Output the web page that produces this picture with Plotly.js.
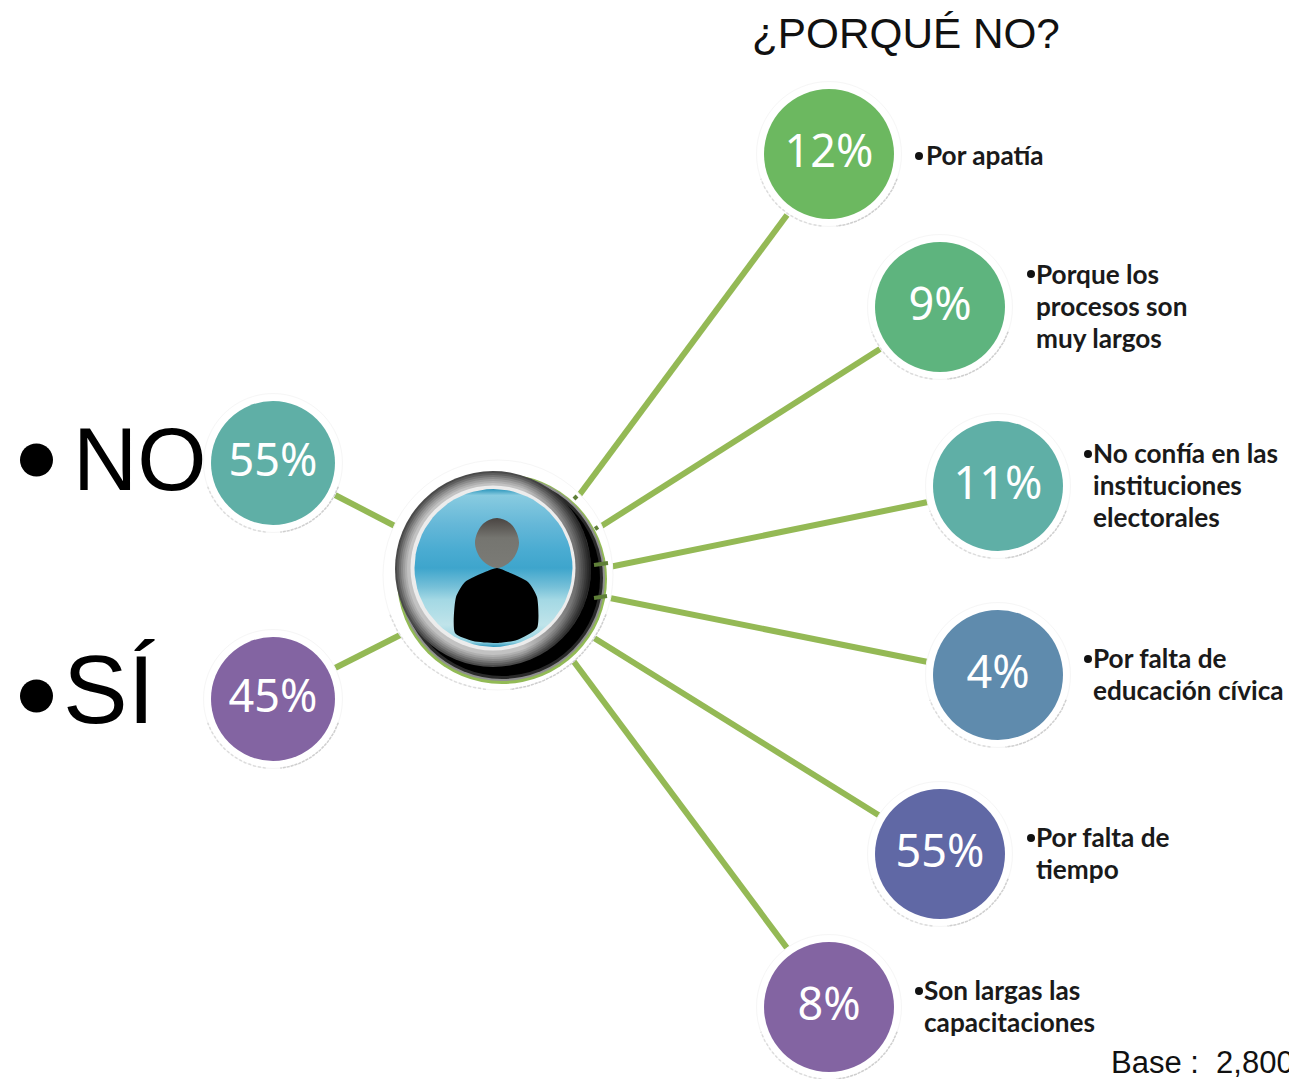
<!DOCTYPE html>
<html><head><meta charset="utf-8">
<script src="https://cdn.plot.ly/plotly-3.0.1.min.js"></script>
<style>html,body{margin:0;padding:0;background:#fff;overflow:hidden}#c{width:1289px;height:1079px}</style>
</head><body><div id="c"></div>
<script>
// ---- values ----
const answerLabels = ['NO', 'SÍ'];
const answerValues = [55, 45];
const reasonLabels = [['Por apatía'], ['Porque los', 'procesos son', 'muy largos'], ['No confía en las', 'instituciones', 'electorales'], ['Por falta de', 'educación cívica'], ['Por falta de', 'tiempo'], ['Son largas las', 'capacitaciones']];
const reasonValues = [12, 9, 11, 4, 55, 8];
const titleText = '¿PORQUÉ NO?';
const baseText = 'Base :  2,800';

// ---- diagram placement and styling (separate from the values) ----
const answerX = [273, 273], answerY = [463, 699];
const answerColors = ['#5fafa6', '#8364a2'];
const reasonX = [829, 940, 998, 998, 940, 829], reasonY = [154, 307, 486, 675, 854, 1007];
const reasonColors = ['#6cb860', '#5eb47e', '#5fafa6', '#5f8bad', '#6068a5', '#8364a2'];
const reasonTextX = [926, 1036, 1093, 1093, 1036, 924], reasonTextY = [158, 309, 488, 677, 856, 1009];
const bulletX = [919, 1031, 1088, 1088, 1031, 919], bulletY = [156, 274, 454, 659, 838, 991];
const linkEnds = [[335,495,420,539],[335,668,420,625],[787,215,560,521],[880,349,570,546],[928,502,570,575],[928,662,570,590],[880,816,570,623],[787,948,560,643]];
const tickEnds = [[574,499,577,496],[595,529,598,527],[594,565,608,563],[594,598,607,596]];
const bodyX = [455,456,465,485,497,508,528,537,537,517,497,473,455], bodyY = [633,597,582,572,568,572,582,597,628,640,643,641,633];
const headX = [497,512,519,512,497,482,475,482,497], headY = [518,525,543,560,568,560,543,525,518];
const rimSizes = [196, 192, 188, 184, 180, 176, 172];
const rimColors = ['#4a4a4a', '#5e5e5e', '#747474', '#8a8a8a', '#9e9e9e', '#b0b0b0', '#c2c2c2'];
const LINE_GAP = 32;

const traces = [];
const skip = { hoverinfo: 'skip' };
const disc = (x, y, d, color, extra = {}) => traces.push(Object.assign({
  type: 'scatter', mode: 'markers', x: [x], y: [y],
  marker: Object.assign({ size: d, color, line: { width: 0 } }, extra)
}, skip));
const segs = (ends, color, width) => {
  const xs = [], ys = [];
  ends.forEach(e => { xs.push(e[0], e[2], null); ys.push(e[1], e[3], null); });
  traces.push(Object.assign({ type: 'scatter', mode: 'lines', x: xs, y: ys, line: { color, width } }, skip));
};
// outline helpers for the decorative emblem rings (geometry, not data)
const outline = (cx, cy, r, a0 = 0, a1 = 360, n = 72) => {
  const xs = [], ys = [];
  for (let i = 0; i <= n; i++) {
    const a = (a0 + (a1 - a0) * i / n) * Math.PI / 180;
    xs.push(cx + r * Math.cos(a)); ys.push(cy + r * Math.sin(a));
  }
  return { x: xs, y: ys };
};
const gradDisc = (cx, cy, r, type, colorscale) => traces.push(Object.assign({
  type: 'scatter', mode: 'lines', fill: 'toself', fillgradient: { type, colorscale },
  line: { width: 0, color: 'rgba(0,0,0,0)' }
}, outline(cx, cy, r), skip));
const arc = (cx, cy, r, a0, a1, color, width, dash) => traces.push(Object.assign({
  type: 'scatter', mode: 'lines', line: { color, width, dash }
}, outline(cx, cy, r, a0, a1, 40), skip));
const haloFor = (x, y, r, pad) => {
  disc(x, y, 2 * (r + pad), '#fff', { line: { width: 1, color: '#f6f6f6' } });
  arc(x, y, r + pad, 20, 84, '#cfcfcf', 1.5, '3px,1px');
  arc(x, y, r + pad, 96, 160, '#dcdcdc', 1.5, '3px,2px');
};

// connectors
segs(linkEnds, '#94b955', 6);

// central emblem
haloFor(498, 575, 108, 7);
disc(502, 579, 210, '#92ba55');
disc(502, 578, 206, '#8f8f8f');
disc(502, 578, 202, '#2a2a2a');
disc(502, 578, 196, '#000');
rimSizes.forEach((d, i) => disc(493, 569, d, rimColors[i]));
gradDisc(493, 569, 98, 'horizontal', [[0, 'rgba(0,0,0,0)'], [0.65, 'rgba(0,0,0,0)'], [1, 'rgba(0,0,0,0.55)']]);
disc(493, 568, 165, '#ececec');
gradDisc(493.5, 568, 79, 'vertical', [[0, '#2a95bb'], [0.03, '#8fd0e0'], [0.14, '#c0e4ea'], [0.3, '#a3d8e4'], [0.38, '#76c0d8'], [0.5, '#3ea5cc'], [0.62, '#4bacd2'], [0.78, '#66b8d8'], [0.96, '#88cbe0'], [1, '#2a95bb']]);
segs(tickEnds, '#5f7f38', 4);
traces.push(Object.assign({ type: 'scatter', mode: 'lines', x: bodyX, y: bodyY, fill: 'toself', fillcolor: '#000', line: { color: '#000', width: 0, shape: 'spline', smoothing: 0.6 } }, skip));
traces.push(Object.assign({ type: 'scatter', mode: 'lines', x: headX, y: headY, fill: 'toself',
  fillgradient: { type: 'vertical', colorscale: [[0, '#7b7b76'], [0.6, '#757570'], [1, '#4a4542']] },
  line: { color: 'rgba(0,0,0,0)', width: 0, shape: 'spline', smoothing: 1 } }, skip));

// halos
answerX.forEach((x, i) => haloFor(x, answerY[i], 62, 7.5));
reasonX.forEach((x, i) => haloFor(x, reasonY[i], 65, 7.5));

// bubbles
traces.push(Object.assign({ type: 'scatter', mode: 'markers', x: answerX, y: answerY, marker: { size: 124, color: answerColors, line: { width: 0 } } }, skip));
traces.push(Object.assign({ type: 'scatter', mode: 'markers', x: reasonX, y: reasonY, marker: { size: 130, color: reasonColors, line: { width: 0 } } }, skip));
traces.push(Object.assign({ type: 'scatter', mode: 'text', x: answerX.concat(reasonX), y: answerY.concat(reasonY).map(v => v + 2),
  text: answerValues.concat(reasonValues).map(v => v + '%'), textposition: 'middle center',
  textfont: { family: 'Noto Sans', size: 45, color: '#fff' } }, skip));

// reason text and bullets
const lineX = [], lineY = [], lineText = [];
reasonLabels.forEach((lines, i) => lines.forEach((t, j) => {
  lineX.push(reasonTextX[i]);
  lineY.push(reasonTextY[i] + (j - (lines.length - 1) / 2) * LINE_GAP);
  lineText.push(t);
}));
traces.push(Object.assign({ type: 'scatter', mode: 'text', x: lineX, y: lineY, text: lineText,
  textposition: 'middle right', textfont: { family: 'Lato', size: 26.2, color: '#1a1a1a', weight: 700 } }, skip));
traces.push(Object.assign({ type: 'scatter', mode: 'markers', x: bulletX, y: bulletY, marker: { size: 8, color: '#111' } }, skip));

// left big labels
traces.push(Object.assign({ type: 'scatter', mode: 'markers', x: [36.5, 36.5], y: [460, 696], marker: { size: 33, color: '#000' } }, skip));
traces.push(Object.assign({ type: 'scatter', mode: 'text', x: [73, 63], y: [468, 699], text: answerLabels,
  textposition: 'middle right', textfont: { family: 'Liberation Sans', size: [89, 97], color: '#000' } }, skip));

// title and base note
traces.push(Object.assign({ type: 'scatter', mode: 'text', x: [752], y: [37], text: [titleText],
  textposition: 'middle right', textfont: { family: 'Liberation Sans', size: 42.3, color: '#111' } }, skip));
traces.push(Object.assign({ type: 'scatter', mode: 'text', x: [1111], y: [1065], text: [baseText], cliponaxis: false,
  textposition: 'middle right', textfont: { family: 'Liberation Sans', size: 31, color: '#111' } }, skip));

const hidden = { visible: false, showgrid: false, zeroline: false };
Plotly.newPlot('c', traces, {
  width: 1289, height: 1079, margin: { l: 0, r: 0, t: 0, b: 0, pad: 0 },
  paper_bgcolor: '#fff', plot_bgcolor: '#fff', showlegend: false,
  xaxis: Object.assign({ range: [0, 1289] }, hidden),
  yaxis: Object.assign({ range: [1079, 0] }, hidden)
}, { staticPlot: true, displayModeBar: false });
</script></body></html>
